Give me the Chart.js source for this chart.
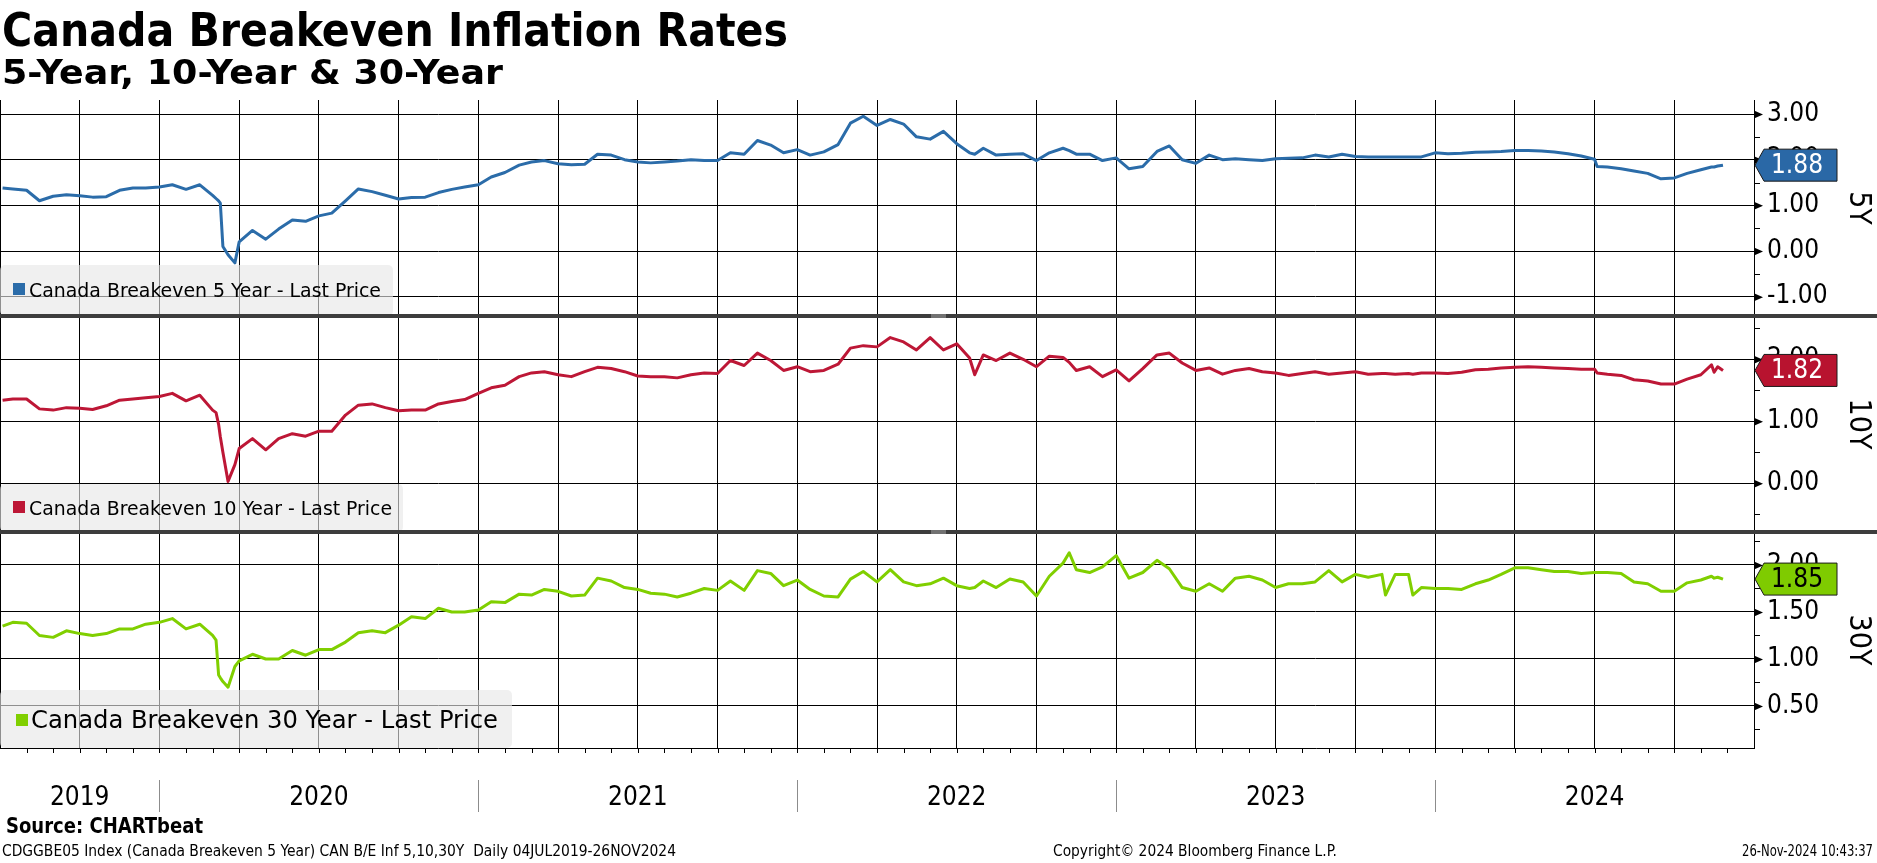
<!DOCTYPE html>
<html>
<head>
<meta charset="utf-8">
<title>Canada Breakeven Inflation Rates</title>
<script src="https://cdn.jsdelivr.net/npm/chart.js@4.4.1/dist/chart.umd.min.js"></script>
<style>
  body { margin: 0; background: #fff; overflow: hidden; }
  #wrap { position: relative; width: 1877px; height: 863px; }
  #chart { position: absolute; left: 0; top: 0; }
  .t { position: absolute; white-space: nowrap; line-height: 1; transform-origin: 0 0; color: #000;
       font-family: 'DejaVu Sans Condensed', 'DejaVu Sans', sans-serif; }
  .b { font-weight: bold; }
</style>
</head>
<body>
<div id="wrap">
  <canvas id="chart" width="1877" height="863"></canvas>
  <div class="t b" id="tTitle">Canada Breakeven Inflation Rates</div>
  <div class="t b" id="tSub">5-Year, 10-Year &amp; 30-Year</div>
  <div class="t b" id="tSrc">Source: CHARTbeat</div>
  <div class="t" id="tIdx">CDGGBE05 Index (Canada Breakeven 5 Year) CAN B/E Inf 5,10,30Y&nbsp;&nbsp;Daily 04JUL2019-26NOV2024</div>
  <div class="t" id="tCopy">Copyright© 2024 Bloomberg Finance L.P.</div>
  <div class="t" id="tTime">26-Nov-2024 10:43:37</div>
</div>
<script>
// observation dates, one line per month
const dates = [
  '2019-07-04','2019-07-16',
  '2019-08-01','2019-08-16',
  '2019-09-01','2019-09-16',
  '2019-10-01','2019-10-16',
  '2019-11-01','2019-11-16',
  '2019-12-01','2019-12-16',
  '2020-01-01','2020-01-16',
  '2020-02-01','2020-02-16',
  '2020-03-01','2020-03-05','2020-03-08','2020-03-10','2020-03-13','2020-03-19','2020-03-27',
  '2020-04-01','2020-04-16',
  '2020-05-01','2020-05-16',
  '2020-06-01','2020-06-16',
  '2020-07-01','2020-07-16',
  '2020-08-01','2020-08-16',
  '2020-09-01','2020-09-16',
  '2020-10-01','2020-10-16',
  '2020-11-01','2020-11-16',
  '2020-12-01','2020-12-16',
  '2021-01-01','2021-01-16',
  '2021-02-01','2021-02-16',
  '2021-03-01','2021-03-16',
  '2021-04-01','2021-04-16',
  '2021-05-01','2021-05-16',
  '2021-06-01','2021-06-16',
  '2021-07-01','2021-07-16',
  '2021-08-01','2021-08-16',
  '2021-09-01','2021-09-16',
  '2021-10-01','2021-10-16',
  '2021-11-01','2021-11-16',
  '2021-12-01','2021-12-16',
  '2022-01-01','2022-01-16',
  '2022-02-01','2022-02-16',
  '2022-03-01','2022-03-16',
  '2022-04-01','2022-04-16',
  '2022-05-01','2022-05-16',
  '2022-06-01','2022-06-16',
  '2022-07-01','2022-07-16','2022-07-22',
  '2022-08-01','2022-08-16',
  '2022-09-01','2022-09-16',
  '2022-10-01','2022-10-16',
  '2022-11-01','2022-11-08','2022-11-16',
  '2022-12-01','2022-12-16',
  '2023-01-01','2023-01-16',
  '2023-02-01','2023-02-16',
  '2023-03-01','2023-03-16',
  '2023-04-01','2023-04-16',
  '2023-05-01','2023-05-16',
  '2023-06-01','2023-06-16',
  '2023-07-01','2023-07-16',
  '2023-08-01','2023-08-16',
  '2023-09-01','2023-09-16',
  '2023-10-01','2023-10-16',
  '2023-11-01','2023-11-05','2023-11-16',
  '2023-12-01','2023-12-06','2023-12-16',
  '2024-01-01','2024-01-16',
  '2024-02-01','2024-02-16',
  '2024-03-01','2024-03-16',
  '2024-04-01','2024-04-16',
  '2024-05-01','2024-05-16',
  '2024-06-01','2024-06-16',
  '2024-07-01','2024-07-04','2024-07-16',
  '2024-08-01','2024-08-16',
  '2024-09-01','2024-09-16',
  '2024-10-01','2024-10-16',
  '2024-11-01','2024-11-13','2024-11-16','2024-11-20','2024-11-26'
];

const be5 = [
  1.38, 1.36,
  1.33, 1.10,
  1.20, 1.23,
  1.21, 1.18,
  1.19, 1.33,
  1.38, 1.38,
  1.40, 1.45,
  1.35, 1.45,
  1.22, 1.15, 1.10, 1.05, 0.10, -0.08, -0.26,
  0.20, 0.45,
  0.26, 0.48,
  0.68, 0.65,
  0.77, 0.83,
  1.10, 1.36,
  1.30, 1.22,
  1.14, 1.17,
  1.18, 1.28,
  1.35, 1.40,
  1.45, 1.62,
  1.72, 1.88,
  1.95, 1.98,
  1.91, 1.89,
  1.90, 2.12,
  2.10, 2.00,
  1.95, 1.93,
  1.95, 1.97,
  2.00, 1.98,
  1.98, 2.15,
  2.12, 2.42,
  2.32, 2.15,
  2.22, 2.10,
  2.17, 2.33,
  2.80, 2.95,
  2.75, 2.88,
  2.78, 2.50,
  2.45, 2.62,
  2.35, 2.15, 2.12,
  2.25, 2.10,
  2.12, 2.13,
  1.98, 2.15,
  2.25, 2.20, 2.12,
  2.12, 1.98,
  2.04, 1.80,
  1.85, 2.18,
  2.30, 2.00,
  1.92, 2.10,
  2.00, 2.02,
  2.00, 1.98,
  2.02, 2.03,
  2.04, 2.10,
  2.06, 2.12,
  2.07, 2.06,
  2.06, 2.06, 2.06,
  2.06, 2.06, 2.06,
  2.15, 2.13,
  2.14, 2.16,
  2.17, 2.18,
  2.20, 2.20,
  2.19, 2.17,
  2.13, 2.08,
  2.01, 1.85, 1.84,
  1.80, 1.75,
  1.70, 1.58,
  1.60, 1.70,
  1.78, 1.84, 1.84, 1.86, 1.88
];

const be10 = [
  1.34, 1.36,
  1.36, 1.20,
  1.18, 1.22,
  1.21, 1.19,
  1.25, 1.34,
  1.36, 1.38,
  1.40, 1.45,
  1.33, 1.42,
  1.18, 1.14, 0.95, 0.75, 0.50, 0.03, 0.30,
  0.56, 0.72,
  0.54, 0.72,
  0.80, 0.76,
  0.84, 0.84,
  1.10, 1.26,
  1.28, 1.22,
  1.17, 1.18,
  1.18, 1.28,
  1.32, 1.35,
  1.45, 1.54,
  1.58, 1.72,
  1.78, 1.80,
  1.75, 1.72,
  1.80, 1.87,
  1.85, 1.80,
  1.73, 1.72,
  1.72, 1.70,
  1.75, 1.78,
  1.77, 1.98,
  1.90, 2.10,
  1.98, 1.82,
  1.88, 1.80,
  1.82, 1.92,
  2.18, 2.22,
  2.20, 2.35,
  2.28, 2.15,
  2.35, 2.15,
  2.25, 2.02, 1.75,
  2.07, 1.98,
  2.10, 2.00,
  1.88, 2.05,
  2.03, 1.95, 1.82,
  1.88, 1.72,
  1.83, 1.65,
  1.85, 2.07,
  2.10, 1.94,
  1.82, 1.86,
  1.76, 1.82,
  1.85, 1.80,
  1.78, 1.74,
  1.77, 1.80,
  1.76, 1.78,
  1.80, 1.76,
  1.77, 1.77, 1.76,
  1.77, 1.76, 1.78,
  1.78, 1.77,
  1.79, 1.83,
  1.84, 1.86,
  1.87, 1.88,
  1.87, 1.86,
  1.85, 1.84,
  1.84, 1.78, 1.76,
  1.74, 1.67,
  1.65, 1.60,
  1.60, 1.68,
  1.75, 1.91, 1.79, 1.88, 1.82
];

const be30 = [
  1.35, 1.39,
  1.38, 1.25,
  1.23, 1.30,
  1.27, 1.25,
  1.27, 1.32,
  1.32, 1.37,
  1.39, 1.43,
  1.32, 1.37,
  1.25, 1.20, 0.83, 0.80, 0.76, 0.70, 0.92,
  0.98, 1.05,
  1.00, 1.00,
  1.09, 1.04,
  1.10, 1.10,
  1.18, 1.28,
  1.30, 1.28,
  1.36, 1.45,
  1.43, 1.54,
  1.50, 1.50,
  1.52, 1.61,
  1.60, 1.69,
  1.68, 1.74,
  1.72, 1.67,
  1.68, 1.86,
  1.83, 1.76,
  1.74, 1.70,
  1.69, 1.66,
  1.70, 1.75,
  1.73, 1.83,
  1.73, 1.94,
  1.91, 1.78,
  1.84, 1.74,
  1.67, 1.66,
  1.85, 1.93,
  1.82, 1.95,
  1.82, 1.78,
  1.80, 1.86,
  1.78, 1.75, 1.76,
  1.83, 1.76,
  1.85, 1.82,
  1.67, 1.88,
  2.02, 2.13, 1.95,
  1.92, 1.98,
  2.10, 1.86,
  1.92, 2.05,
  1.96, 1.76,
  1.72, 1.80,
  1.72, 1.86,
  1.88, 1.84,
  1.76, 1.80,
  1.80, 1.82,
  1.94, 1.82,
  1.90, 1.87,
  1.90, 1.68, 1.90,
  1.90, 1.68, 1.76,
  1.75, 1.75,
  1.74, 1.80,
  1.84, 1.90,
  1.97, 1.97,
  1.95, 1.93,
  1.93, 1.91,
  1.92, 1.92, 1.92,
  1.91, 1.82,
  1.80, 1.72,
  1.72, 1.81,
  1.84, 1.88, 1.86, 1.87, 1.85
];

const ticks5 = [-1, 0, 1, 2, 3];
const ticks10 = [0, 1, 2];
const ticks30 = [0.5, 1, 1.5, 2];
const years = ['2019', '2020', '2021', '2022', '2023', '2024'];
const seriesNames = [
  'Canada Breakeven 5 Year - Last Price',
  'Canada Breakeven 10 Year - Last Price',
  'Canada Breakeven 30 Year - Last Price'
];
const panelLabels = ['5Y', '10Y', '30Y'];

// months since 1 Jul 2019
function monthPos(d) {
  const [y, m, day] = d.split('-').map(Number);
  const dim = new Date(Date.UTC(y, m, 0)).getUTCDate();
  return (y - 2019) * 12 + (m - 7) + (day - 1) / dim;
}
const xs = dates.map(monthPos);
const X_MIN = 0, X_MAX = 66;

// html texts, fitted to the widths seen on the reference
function place(id, x, base, size, width) {
  const el = document.getElementById(id);
  el.style.fontSize = size + 'px';
  el.style.left = x + 'px';
  el.style.top = (base - 0.846 * size) + 'px';
  const w = el.getBoundingClientRect().width;
  el.style.transform = 'scaleX(' + (width / w) + ')';
}
place('tTitle', 2, 46, 46, 786);
place('tSub', 2, 84, 34, 501);
place('tSrc', 6, 834, 21, 197);
place('tIdx', 2, 857, 15, 674);
place('tCopy', 1053, 857, 15, 284);
place('tTime', 1742, 857, 15, 131);

const FONT = "'DejaVu Sans Condensed', 'DejaVu Sans', sans-serif";

const panels = [
  { id: 'y5', data: be5, ticks: ticks5, min: -1.4226, max: 3.3066, minor: 0.5,
    color: '#2b6ca9', badge: '#2a68a6', badgeText: '#fff',
    legend: { y: 265, w: 393, sq: [13, 283], text: [29, 296.5, 20, 352] } },
  { id: 'y10', data: be10, ticks: ticks10, min: -0.786, max: 2.698, minor: 0.5,
    color: '#bd1736', badge: '#b8132f', badgeText: '#fff',
    legend: { y: 484, w: 403, sq: [13, 501], text: [29, 515, 20, 363] } },
  { id: 'y30', data: be30, ticks: ticks30, min: 0.053, max: 2.351, minor: 0.25,
    color: '#80cf00', badge: '#7fcb00', badgeText: '#000',
    legend: { y: 690, w: 512, sq: [16, 714], text: [31, 728, 25, 467] } }
];

function fitText(ctx, text, x, y, width) {
  const w = ctx.measureText(text).width;
  ctx.save();
  ctx.translate(x, y);
  ctx.scale(width / w, 1);
  ctx.fillText(text, 0, 0);
  ctx.restore();
}

const overlay = {
  id: 'overlay',
  afterDatasetsDraw(chart) {
    const ctx = chart.ctx;
    panels.forEach((p, i) => {
      const sc = chart.scales[p.id];
      const lg = p.legend;
      ctx.save();
      ctx.fillStyle = 'rgba(231,231,231,0.62)';
      ctx.beginPath();
      ctx.roundRect(0, lg.y, lg.w, sc.bottom - lg.y, 5);
      ctx.fill();
      ctx.fillStyle = p.color;
      ctx.fillRect(lg.sq[0], lg.sq[1], 12, 12);
      ctx.fillStyle = '#000';
      ctx.font = lg.text[2] + 'px ' + FONT;
      ctx.textBaseline = 'alphabetic';
      ctx.textAlign = 'left';
      fitText(ctx, seriesNames[i], lg.text[0], lg.text[1], lg.text[3]);
      ctx.restore();
    });
  },
  afterDraw(chart) {
    const ctx = chart.ctx;
    const area = chart.chartArea;
    const xsc = chart.scales.x;
    const right = area.right;
    ctx.save();

    panels.forEach((p, i) => {
      const sc = chart.scales[p.id];
      // minor ticks and arrow heads on the value axis
      ctx.strokeStyle = '#000';
      ctx.lineWidth = 1;
      const start = Math.ceil(p.min / p.minor) * p.minor;
      for (let v = start; v <= p.max; v += p.minor) {
        const vv = Math.round(v * 100) / 100;
        if (p.ticks.includes(vv)) continue;
        const y = Math.round(sc.getPixelForValue(vv)) + 0.5;
        ctx.beginPath();
        ctx.moveTo(right, y);
        ctx.lineTo(right + 6, y);
        ctx.stroke();
      }
      ctx.fillStyle = '#000';
      p.ticks.forEach(v => {
        const y = sc.getPixelForValue(v);
        ctx.beginPath();
        ctx.moveTo(right, y - 3.5);
        ctx.lineTo(right + 9, y + 0.5);
        ctx.lineTo(right, y + 4.5);
        ctx.closePath();
        ctx.fill();
      });

      // last value badge
      const last = p.data[p.data.length - 1];
      const by = sc.getPixelForValue(last);
      ctx.beginPath();
      ctx.moveTo(right + 1, by);
      ctx.lineTo(right + 10, by - 16);
      ctx.lineTo(1837, by - 16);
      ctx.lineTo(1837, by + 16);
      ctx.lineTo(right + 10, by + 16);
      ctx.closePath();
      ctx.fillStyle = p.badge;
      ctx.fill();
      ctx.strokeStyle = '#1a1a1a';
      ctx.lineWidth = 1;
      ctx.stroke();
      ctx.fillStyle = p.badgeText;
      ctx.font = '26px ' + FONT;
      ctx.textAlign = 'center';
      ctx.textBaseline = 'middle';
      ctx.fillText(last.toFixed(2), 1797, by + 1);

      // rotated panel name
      ctx.save();
      ctx.translate(1858, (sc.top + sc.bottom) / 2);
      ctx.rotate(Math.PI / 2);
      ctx.fillStyle = '#000';
      ctx.font = '30px ' + FONT;
      ctx.textAlign = 'center';
      ctx.textBaseline = 'middle';
      ctx.fillText(panelLabels[i], 0, 0);
      ctx.restore();

      // separator under the panel
      if (i < panels.length - 1) {
        const sy = sc.bottom;
        ctx.fillStyle = '#3d3d3d';
        ctx.fillRect(0, sy - 2, 1877, 4);
        ctx.fillStyle = '#a8a8a8';
        ctx.fillRect(931, sy - 1.5, 15, 1);
        ctx.fillRect(931, sy + 0.5, 15, 1);
      }
    });

    // monthly ticks under the time axis
    ctx.strokeStyle = '#000';
    ctx.lineWidth = 1;
    for (let m = X_MIN + 1; m < X_MAX; m++) {
      const x = Math.round(xsc.getPixelForValue(m)) + 0.5;
      ctx.beginPath();
      ctx.moveTo(x, area.bottom);
      ctx.lineTo(x, area.bottom + 5);
      ctx.stroke();
    }

    // year labels and separators
    ctx.font = '26px ' + FONT;
    ctx.textAlign = 'center';
    ctx.textBaseline = 'alphabetic';
    years.forEach(yr => {
      const a = Math.max(X_MIN, monthPos(yr + '-01-01'));
      const b = Math.min(X_MAX, monthPos((+yr + 1) + '-01-01'));
      ctx.fillStyle = '#000';
      ctx.fillText(yr, xsc.getPixelForValue((a + b) / 2), 805);
      if (b < X_MAX) {
        const x = Math.round(xsc.getPixelForValue(b)) + 0.5;
        ctx.strokeStyle = '#8c8c8c';
        ctx.beginPath();
        ctx.moveTo(x, 780);
        ctx.lineTo(x, 812);
        ctx.stroke();
      }
    });
    ctx.restore();
  }
};

const scales = {
  x: {
    type: 'linear', min: X_MIN, max: X_MAX, position: 'bottom',
    ticks: { display: false, stepSize: 3 },
    grid: { color: '#000', lineWidth: 1, drawTicks: false },
    border: { display: true, color: '#000', width: 1 },
    afterFit: s => { s.height = 115; }
  }
};
panels.forEach(p => {
  scales[p.id] = {
    type: 'linear', position: 'right', stack: 'panels', stackWeight: 1,
    min: p.min, max: p.max,
    afterBuildTicks: a => { a.ticks = p.ticks.map(v => ({ value: v })); },
    ticks: {
      autoSkip: false,
      callback: v => v.toFixed(2),
      padding: 13, color: '#000',
      font: { family: FONT, size: 26 }
    },
    grid: { color: '#000', lineWidth: 1, drawTicks: false },
    border: { display: true, color: '#000', width: 1 },
    afterFit: s => { s.width = 123; }
  };
});

new Chart(document.getElementById('chart').getContext('2d'), {
  type: 'line',
  data: {
    datasets: panels.map((p, i) => ({
      label: seriesNames[i],
      data: xs.map((x, k) => ({ x: x, y: p.data[k] })),
      yAxisID: p.id,
      borderColor: p.color,
      borderWidth: 3,
      borderJoinStyle: 'round',
      pointRadius: 0,
      tension: 0,
      fill: false
    }))
  },
  options: {
    responsive: false,
    animation: false,
    devicePixelRatio: 1,
    parsing: false,
    layout: { padding: { top: 100, left: 0, right: 0, bottom: 0 } },
    plugins: { legend: { display: false }, tooltip: { enabled: false } },
    scales: scales
  },
  plugins: [overlay]
});
</script>
</body>
</html>
